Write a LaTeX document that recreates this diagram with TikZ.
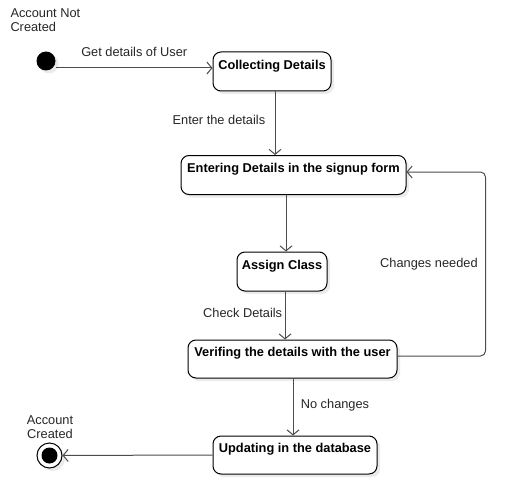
\documentclass[tikz,border=0pt]{standalone}
\usepackage{fontspec}
\setmainfont{Liberation Sans}
\usetikzlibrary{arrows.meta,shadows}

\begin{document}
\begin{tikzpicture}[x=1pt, y=-1pt, line width=1pt,
    font=\fontsize{12.8}{14}\selectfont,
    shade/.style={drop shadow={shadow xshift=3pt, shadow yshift=-3pt, fill=black, opacity=0.08}},
    state/.style={draw, fill=white, shade, rounded corners=8pt, inner sep=0pt,
        minimum height=39pt, text height=9.5pt, text depth=14pt, font=\fontsize{12.8}{14}\selectfont\bfseries},
    arr/.style={draw=black!70, -{Straight Barb[length=5pt, width=12pt]}},
    lbl/.style={text=black!85}]
    \useasboundingbox (0,0) rectangle (524,500);

    \node[align=left, anchor=north west, inner sep=0pt, lbl] (startlbl) at (10,8){Account Not\\Created};
    \node[circle, fill=black, shade, minimum size=19pt, inner sep=0pt] (start) at (46,61){};

    \node[state, minimum width=118pt] (collect) at (272,71.5){Collecting Details};
    \node[state, minimum width=225pt] (enter) at (293.5,175){Entering Details in the signup form};
    \node[state, minimum width=90pt] (assign) at (282,271.5){Assign Class};
    \node[state, minimum width=209pt, minimum height=38pt] (verify) at (292.5,359){Verifing the details with the user};
    \node[state, minimum width=164pt, minimum height=38pt] (update) at (295,455){Updating in the database};

    \node[circle, draw, fill=white, shade, minimum size=25pt, inner sep=0pt] (final) at (49.5,455.5){};
    \node[circle, fill=black, minimum size=16pt, inner sep=0pt] (finaldot) at (final){};
    \node[align=center, anchor=north, inner sep=0pt, lbl] (finallbl) at (50,415){Account\\Created};

    \draw[arr] ([yshift=-7pt]start.east) -- ([yshift=-7pt]start.east -| collect.west)
        node[midway, above=8pt, lbl]{Get details of User};
    \draw[arr] ([xshift=3pt]collect.south) -- ([xshift=3pt]collect.south |- enter.north)
        node[midway, left=6pt, yshift=3pt, lbl]{Enter the details};
    \draw[arr] ([xshift=4pt]assign.north |- enter.south) -- ([xshift=4pt]assign.north);
    \draw[arr] ([xshift=3pt]assign.south) -- ([xshift=3pt]assign.south |- verify.north)
        node[midway, left=-1pt, yshift=3pt, lbl]{Check Details};
    \draw[arr, rounded corners=5pt] ([yshift=3pt]verify.east) -- ++(88,0) |- ([yshift=3pt]enter.east)
        node[pos=0.25, left=4pt, lbl]{Changes needed};
    \draw[arr] ([xshift=-2pt]update.north |- verify.south) -- ([xshift=-2pt]update.north)
        node[midway, right=4pt, yshift=2pt, lbl]{No changes};
    \draw[arr] (update.west) -- (final);
\end{tikzpicture}
\end{document}
